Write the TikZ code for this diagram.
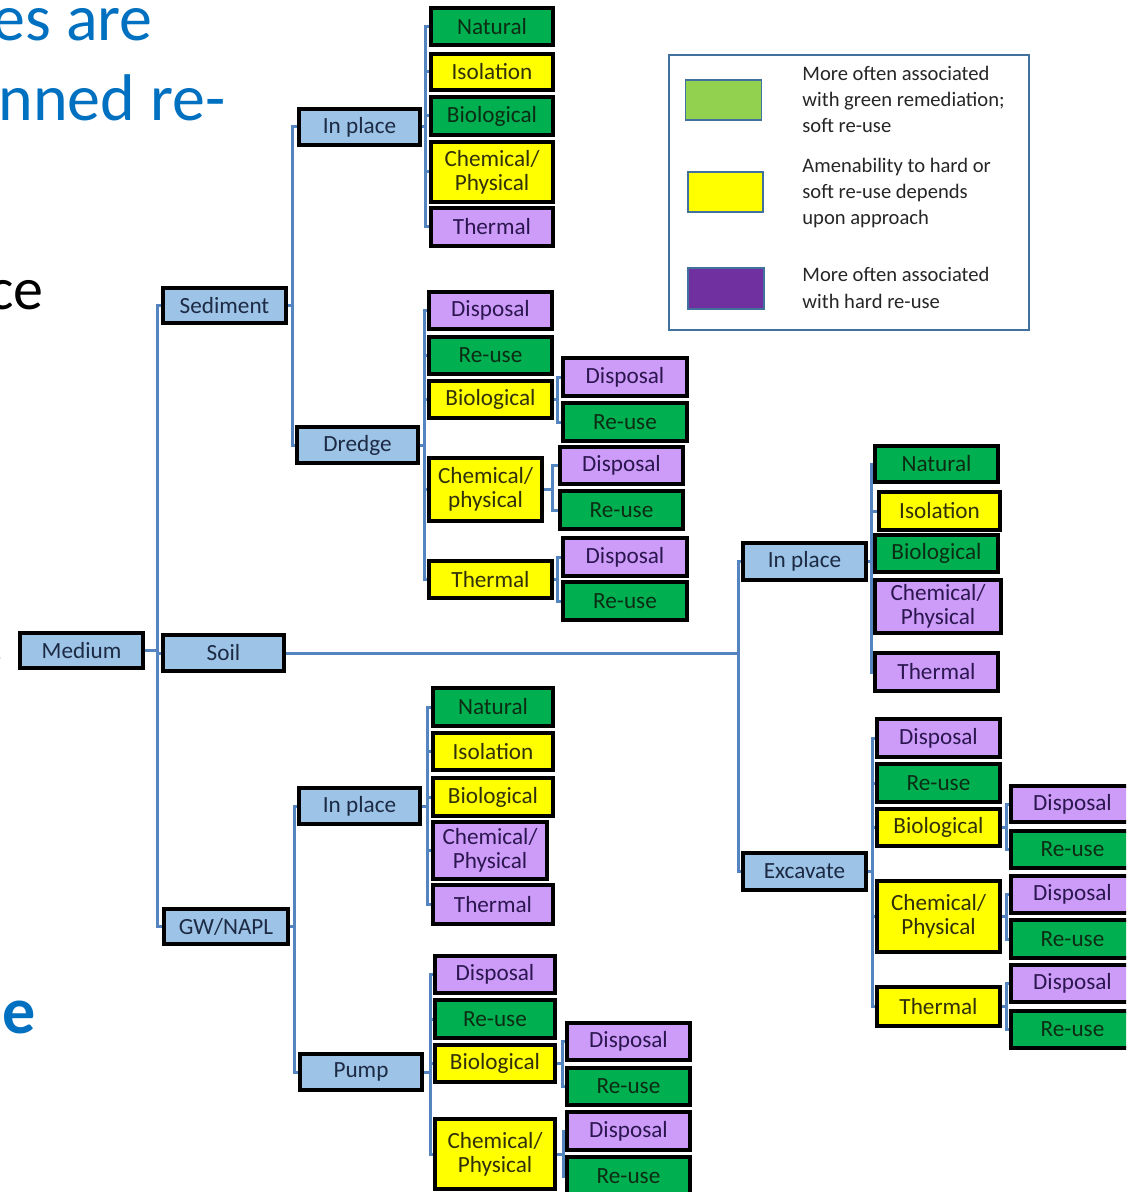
\documentclass[tikz,border=0pt]{standalone}
\usepackage{fontspec}
\setmainfont{Carlito}
\usetikzlibrary{backgrounds}

\definecolor{cBlue}{HTML}{9DC3E6}
\definecolor{cGreen}{HTML}{00B050}
\definecolor{cYellow}{HTML}{FFFF00}
\definecolor{cPurple}{HTML}{CC9CF8}
\definecolor{tBlue}{HTML}{1C2A44}
\definecolor{tGreen}{HTML}{0C2C14}
\definecolor{tYellow}{HTML}{30300A}
\definecolor{tPurple}{HTML}{2C1650}
\definecolor{cLink}{HTML}{5585C0}
\definecolor{cFrame}{HTML}{41719C}
\definecolor{lgGreen}{HTML}{92D050}
\definecolor{lgPurple}{HTML}{7030A0}
\definecolor{lgText}{HTML}{262626}
\definecolor{slideBlue}{HTML}{0070C0}

% box from pixel corners: name, x1, y1, x2, y2, style, label
\newcommand\bx[7]{%
  \pgfmathsetmacro\bxw{(#4-#2)*0.5}%
  \pgfmathsetmacro\bxh{(#5-#3)*0.5}%
  \node[#6, minimum width=\bxw pt, minimum height=\bxh pt] (#1) at ({(#2+#4)/2},{(#3+#5)/2}) {#7};}

% elbow connectors from a parent to its children through a vertical bar at x = #2
\newcommand\kids[3]{%
  \begin{scope}[on background layer]
  \coordinate (barx) at (#2,0);
  \foreach \c in {#3} {\draw[conn] (#1.east) -- (#1.east -| barx) |- (\c.west);}
  \end{scope}}

\tikzset{
  box/.style={draw=black, line width=1.8pt, inner sep=0pt, align=center,
              font=\fontsize{11.6}{12}\selectfont},
  nblue/.style={box, fill=cBlue, text=tBlue},
  ngreen/.style={box, fill=cGreen, text=tGreen},
  nyellow/.style={box, fill=cYellow, text=tYellow},
  npurple/.style={box, fill=cPurple, text=tPurple},
  conn/.style={draw=cLink, line width=1.5pt},
  swatch/.style={draw=cFrame, line width=0.6pt},
  legtext/.style={anchor=base west, inner sep=0pt, text=lgText,
                  font=\fontsize{10.3}{12}\selectfont},
  slide/.style={anchor=base east, inner sep=0pt, font=\fontsize{33}{36}\selectfont}
}

\begin{document}
\begin{tikzpicture}[x=0.5pt, y=-0.5pt]
\clip (0,0) rectangle (1126,1192);
\begin{scope}[on background layer]
  \fill[white] (0,0) rectangle (1126,1192);
\end{scope}

% fragments of the surrounding slide text
\node[slide, text=slideBlue] (s1) at (153,41) {es are};
\node[slide, text=slideBlue] (s2) at (226,121) {nned re-};
\node[slide, text=black, font=\fontsize{30}{32}\selectfont] (s3) at (44,310) {ce};
\node[slide, text=black, font=\fontsize{30}{32}\selectfont] (s4) at (5,661) {.};
\node[slide, text=slideBlue, font=\fontsize{33}{36}\bfseries] (s5) at (36,1033) {e};

% first level
\bx{med}{20}{633}{143}{668}{nblue}{Medium}
\bx{sed}{163}{288}{286}{323}{nblue}{Sediment}
\bx{soil}{163}{635}{284}{671}{nblue}{Soil}
\bx{gw}{164}{909}{288}{944}{nblue}{GW/NAPL}

% sediment
\bx{si}{299}{109}{420}{145}{nblue}{In place}
\bx{dr}{297}{427}{418}{463}{nblue}{Dredge}
\bx{si1}{431}{8}{553}{45}{ngreen}{Natural}
\bx{si2}{431}{54}{553}{90}{nyellow}{Isolation}
\bx{si3}{431}{97}{553}{135}{ngreen}{Biological}
\bx{si4}{431}{142}{553}{202}{nyellow}{Chemical/\\Physical}
\bx{si5}{431}{208}{553}{246}{npurple}{Thermal}

\bx{dr1}{429}{292}{552}{329}{npurple}{Disposal}
\bx{dr2}{429}{337}{552}{374}{ngreen}{Re-use}
\bx{dr3}{429}{381}{552}{418}{nyellow}{Biological}
\bx{dr4}{429}{458}{542}{521}{nyellow}{Chemical/\\physical}
\bx{dr5}{429}{561}{552}{598}{nyellow}{Thermal}
\bx{dr3a}{563}{358}{687}{396}{npurple}{Disposal}
\bx{dr3b}{563}{403}{687}{441}{ngreen}{Re-use}
\bx{dr4a}{560}{447}{683}{484}{npurple}{Disposal}
\bx{dr4b}{560}{491}{683}{529}{ngreen}{Re-use}
\bx{dr5a}{563}{538}{687}{576}{npurple}{Disposal}
\bx{dr5b}{563}{582}{687}{620}{ngreen}{Re-use}

% soil
\bx{oi}{743}{543}{866}{580}{nblue}{In place}
\bx{ex}{743}{853}{866}{890}{nblue}{Excavate}
\bx{oi1}{875}{446}{998}{482}{ngreen}{Natural}
\bx{oi2}{879}{492}{1000}{530}{nyellow}{Isolation}
\bx{oi3}{875}{535}{998}{572}{ngreen}{Biological}
\bx{oi4}{875}{580}{1001}{633}{npurple}{Chemical/\\Physical}
\bx{oi5}{875}{653}{998}{691}{npurple}{Thermal}

\bx{ex1}{877}{719}{1000}{757}{npurple}{Disposal}
\bx{ex2}{877}{764}{1000}{802}{ngreen}{Re-use}
\bx{ex3}{877}{809}{1000}{846}{nyellow}{Biological}
\bx{ex4}{877}{881}{1000}{952}{nyellow}{Chemical/\\Physical}
\bx{ex5}{877}{987}{1000}{1026}{nyellow}{Thermal}
\bx{ex3a}{1011}{786}{1134}{822}{npurple}{Disposal}
\bx{ex3b}{1011}{831}{1134}{868}{ngreen}{Re-use}
\bx{ex4a}{1011}{876}{1134}{913}{npurple}{Disposal}
\bx{ex4b}{1011}{920}{1134}{958}{ngreen}{Re-use}
\bx{ex5a}{1011}{965}{1134}{1002}{npurple}{Disposal}
\bx{ex5b}{1011}{1011}{1134}{1048}{ngreen}{Re-use}

% groundwater / NAPL
\bx{gi}{299}{788}{420}{824}{nblue}{In place}
\bx{pu}{300}{1054}{422}{1090}{nblue}{Pump}
\bx{gi1}{433}{688}{553}{726}{ngreen}{Natural}
\bx{gi2}{433}{733}{553}{770}{nyellow}{Isolation}
\bx{gi3}{433}{778}{553}{816}{nyellow}{Biological}
\bx{gi4}{433}{822}{547}{879}{npurple}{Chemical/\\Physical}
\bx{gi5}{433}{885}{553}{924}{npurple}{Thermal}

\bx{pu1}{435}{956}{555}{993}{npurple}{Disposal}
\bx{pu2}{435}{1000}{555}{1038}{ngreen}{Re-use}
\bx{pu3}{435}{1045}{555}{1082}{nyellow}{Biological}
\bx{pu4}{435}{1119}{555}{1189}{nyellow}{Chemical/\\Physical}
\bx{pu3a}{567}{1023}{690}{1060}{npurple}{Disposal}
\bx{pu3b}{567}{1068}{690}{1105}{ngreen}{Re-use}
\bx{pu4a}{567}{1112}{690}{1150}{npurple}{Disposal}
\bx{pu4b}{567}{1157}{690}{1195}{ngreen}{Re-use}

% connectors
\kids{med}{157}{sed,soil,gw}
\kids{sed}{292}{si,dr}
\kids{si}{425}{si1,si2,si3,si4,si5}
\kids{dr}{424}{dr1,dr2,dr3,dr4,dr5}
\kids{dr3}{557}{dr3a,dr3b}
\kids{dr4}{552}{dr4a,dr4b}
\kids{dr5}{557}{dr5a,dr5b}
\kids{soil}{738}{oi,ex}
\kids{oi}{871}{oi1,oi2,oi3,oi4,oi5}
\kids{ex}{872}{ex1,ex2,ex3,ex4,ex5}
\kids{ex3}{1006}{ex3a,ex3b}
\kids{ex4}{1006}{ex4a,ex4b}
\kids{ex5}{1006}{ex5a,ex5b}
\kids{gw}{294}{gi,pu}
\kids{gi}{427}{gi1,gi2,gi3,gi4,gi5}
\kids{pu}{430}{pu1,pu2,pu3,pu4}
\kids{pu3}{562}{pu3a,pu3b}
\kids{pu4}{563}{pu4a,pu4b}

% legend
\draw[cFrame, line width=0.8pt, fill=white] (669,55) rectangle (1029,330);
\node[swatch, fill=lgGreen, inner sep=0pt, minimum width=38pt, minimum height=20pt] (lg1) at (723.5,100) {};
\node[swatch, fill=cYellow, inner sep=0pt, minimum width=37.5pt, minimum height=20pt] (lg2) at (725.5,192) {};
\node[swatch, fill=lgPurple, inner sep=0pt, minimum width=38pt, minimum height=20.5pt] (lg3) at (726,288.5) {};
\node[legtext] (l1a) at (802,81) {More often associated};
\node[legtext] (l1b) at (802,107) {with green remediation;};
\node[legtext] (l1c) at (802,133) {soft re-use};
\node[legtext] (l2a) at (802,173) {Amenability to hard or};
\node[legtext] (l2b) at (802,199) {soft re-use depends};
\node[legtext] (l2c) at (802,225) {upon approach};
\node[legtext] (l3a) at (802,282) {More often associated};
\node[legtext] (l3b) at (802,308) {with hard re-use};
\end{tikzpicture}
\end{document}
